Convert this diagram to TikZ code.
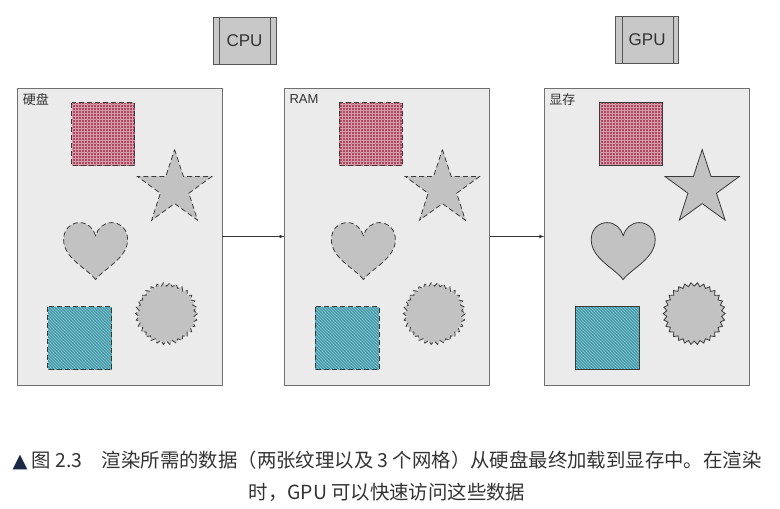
\documentclass[tikz,border=0pt]{standalone}
\usepackage{fontspec}
\setmainfont{Liberation Sans}
\newfontfamily\cjk{Noto Sans CJK SC}
\newfontfamily\symb{DejaVu Sans}
\usepackage[]{xcolor}
\usetikzlibrary{positioning,patterns}

\definecolor{panelfill}{HTML}{EBEBEB}
\definecolor{panelline}{HTML}{707070}
\definecolor{chipfill}{HTML}{C8C8C8}
\definecolor{chipline}{HTML}{555555}
\definecolor{shapefill}{HTML}{C2C2C2}
\definecolor{rimgray}{HTML}{3A3A3A}
\definecolor{texred}{HTML}{AA4A60}
\definecolor{texredline}{HTML}{D89AA8}
\definecolor{texteal}{HTML}{469BAB}
\definecolor{textealline}{HTML}{8CC9D3}
\definecolor{captext}{HTML}{333333}
\definecolor{capmark}{HTML}{1B2A44}

\tikzset{
    pics/assets/.style={code={
        % textures
        \fill[texred] (55,15) rectangle (118,78);
        \fill[pattern=grid, pattern color=texredline] (55,15) rectangle (118,78);
        \draw[rim, #1, fill=none] (55,15) rectangle (118,78);
        \fill[texteal] (31,219) rectangle (95,282);
        \fill[pattern=north west lines, pattern color=textealline] (31,219) rectangle (95,282);
        \draw[rim, #1, fill=none] (31,219) rectangle (95,282);
        % meshes
        \begin{scope}[shift={(158,101)}]
            \draw[rim, #1] (-90:39) -- (-54:15) -- (-18:39) -- (18:15) -- (54:39) -- (90:15)
                -- (126:39) -- (162:15) -- (198:39) -- (234:15) -- cycle;
        \end{scope}
        \begin{scope}[shift={(79,135)}]
            \draw[rim, #1] (0,57) .. controls (-8,46) and (-32,36) .. (-32,17)
                .. controls (-32,6) and (-24,0) .. (-16,0)
                .. controls (-8,0) and (-2,6) .. (0,13)
                .. controls (2,6) and (8,0) .. (16,0)
                .. controls (24,0) and (32,6) .. (32,17)
                .. controls (32,36) and (8,46) .. (0,57) -- cycle;
        \end{scope}
        \begin{scope}[shift={(150,226)}]
            \draw[rim, #1] (0:31) foreach \a in {0,12,...,348} { -- (\a:31) -- (\a+6:27.5) } -- cycle;
        \end{scope}
    }}
}

\begin{document}
\begin{tikzpicture}[
        x=1pt, y=-1pt,
        panel/.style={rectangle, draw=panelline, fill=panelfill, line width=0.8pt, minimum width=205pt, minimum height=297pt, inner sep=0pt},
        chip/.style={rectangle, draw=chipline, fill=chipfill, line width=0.8pt, minimum width=63pt, minimum height=47pt, font=\fontsize{17}{20}\selectfont, text=black!80},
        tag/.style={anchor=north west, inner sep=0pt, text=black!80, font=\fontsize{13}{15}\selectfont},
        rim/.style={draw=rimgray, line width=0.8pt, fill=shapefill},
        broken/.style={dash pattern=on 5pt off 3pt},
        arrow/.style={-latex, line width=0.7pt, draw=black!80},
        caption/.style={align=center, text=captext, font=\cjk\fontsize{19.4}{32}\selectfont}
    ]
    \useasboundingbox (0,0) rectangle (780,509);

    \node[panel] (hdd) at (119.5,236.5) {};
    \node[panel, right=62pt of hdd] (ram) {};
    \node[panel, right=54pt of ram] (vram) {};

    \node[tag] (hddtag) at ([xshift=6pt,yshift=-6pt]hdd.north west) {\cjk 硬盘};
    \node[tag] (ramtag) at ([xshift=5pt,yshift=-7pt]ram.north west) {RAM};
    \node[tag] (vramtag) at ([xshift=5pt,yshift=-6pt]vram.north west) {\cjk 显存};

    \pic at (hdd.north west) {assets=broken};
    \pic at (ram.north west) {assets=broken};
    \pic at (vram.north west) {assets=solid};

    \node[chip] (cpu) at (244.5,40.5) {CPU};
    \node[chip, above=24pt of vram] (gpu) {GPU};
    \foreach \c in {cpu,gpu} {
        \draw[chipline, line width=0.8pt] ([xshift=7pt]\c.north west) -- ([xshift=7pt]\c.south west);
        \draw[chipline, line width=0.8pt] ([xshift=-6pt]\c.north east) -- ([xshift=-6pt]\c.south east);
    }

    \draw[arrow] (hdd) -- (ram);
    \draw[arrow] (ram) -- (vram);

    \node[caption] (cap) at (387,476) {{\symb\color{capmark}▲} 图 2.3\hspace{1em}渲染所需的数据（两张纹理以及 3 个网格）从硬盘最终加载到显存中。在渲染\\时，GPU 可以快速访问这些数据};
\end{tikzpicture}
\end{document}
